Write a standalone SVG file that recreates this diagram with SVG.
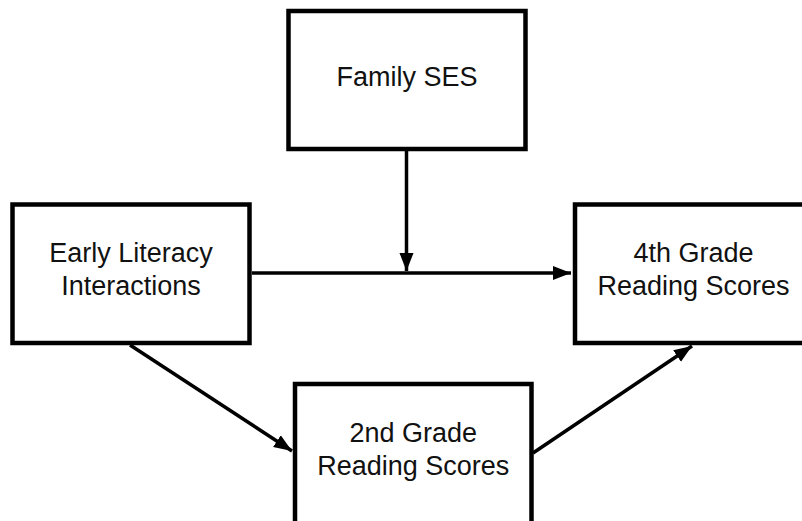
<svg xmlns="http://www.w3.org/2000/svg" width="802" height="521" viewBox="0 0 802 521">
<style>
.box{fill:#fff;stroke:#000;stroke-width:4.5}
.lbl{font-family:"Liberation Sans",Arial,sans-serif;font-size:27px;fill:#111;text-anchor:middle}
.edge{stroke:#000;stroke-width:3.5;fill:none}
</style>
<defs>
<marker id="arr" markerUnits="userSpaceOnUse" markerWidth="20" markerHeight="16" refX="18" refY="7" orient="auto" viewBox="0 0 20 14">
<path d="M0,0 L18,7 L0,14 z" fill="#000"/>
</marker>
</defs>
<rect width="802" height="521" fill="#fff"/>
<g id="edges">
<line class="edge" x1="252" y1="273" x2="571" y2="273" marker-end="url(#arr)"/>
<line class="edge" x1="406.5" y1="151" x2="406.5" y2="271" marker-end="url(#arr)"/>
<line class="edge" x1="130" y1="345" x2="292" y2="451" marker-end="url(#arr)"/>
<line class="edge" x1="533" y1="453" x2="692" y2="346" marker-end="url(#arr)"/>
</g>
<g id="family-ses">
<rect class="box" x="288.5" y="11" width="237" height="138"/>
<text class="lbl" x="407" y="86">Family SES</text>
</g>
<g id="early-literacy">
<rect class="box" x="12.5" y="204.5" width="237" height="138.5"/>
<text class="lbl" x="131" y="262">Early Literacy</text>
<text class="lbl" x="131" y="295">Interactions</text>
</g>
<g id="fourth-grade">
<rect class="box" x="575" y="204.5" width="237" height="138.5"/>
<text class="lbl" x="693.5" y="262">4th Grade</text>
<text class="lbl" x="693.5" y="295">Reading Scores</text>
</g>
<g id="second-grade">
<rect class="box" x="295" y="384" width="236.5" height="145"/>
<text class="lbl" x="413.3" y="442">2nd Grade</text>
<text class="lbl" x="413.3" y="474.5">Reading Scores</text>
</g>
</svg>
